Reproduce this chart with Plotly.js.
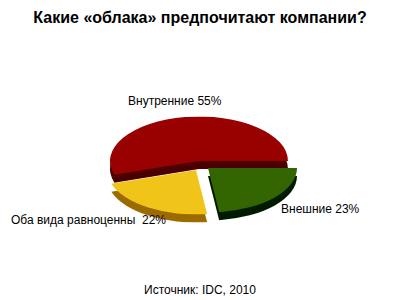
<!DOCTYPE html>
<html><head><meta charset="utf-8">
<script src="https://cdn.plot.ly/plotly-3.0.1.min.js"></script>
<style>
body{margin:0;background:#fff}
#wrap{position:relative;width:400px;height:300px;overflow:hidden;background:#fff}
.pie{position:absolute;width:178px;height:178px;transform:scaleY(0.5);transform-origin:50% 50%}
#main{position:absolute;left:0;top:0;width:400px;height:300px}
</style></head><body>
<div id="wrap"><div id="layers"></div><div id="main"></div></div>
<script>
const categories = ['Внешние', 'Оба вида равноценны', 'Внутренние'];
const shares = [23, 22, 55];
const labelTexts = ['Внешние 23%', 'Оба вида равноценны  22%', 'Внутренние 55%'];
const topColors = ['#336600', '#f0c419', '#990000'];
const sideColors = ['#001a00', '#9c6b00', '#4a0000'];
const titleText = 'Какие «облака» предпочитают компании?';
const sourceText = 'Источник: IDC, 2010';

// layout / styling of the pseudo-3D pie (screen offsets of exploded slices)
const pieCenter = [199, 161];
const pieRadius = 89;
const depth = 8;
const explode = [[9, 7], [-3, 9], [0, 0]];
const drawOrder = [2, 1, 0];

const cfg = {staticPlot: true, displayModeBar: false};
const pieLayout = {width: 2 * pieRadius, height: 2 * pieRadius, margin: {l: 0, r: 0, t: 0, b: 0},
  paper_bgcolor: 'rgba(0,0,0,0)', plot_bgcolor: 'rgba(0,0,0,0)', showlegend: false};

function addLayer(idx, colors, dy) {
  const d = document.createElement('div');
  d.className = 'pie';
  d.style.left = (pieCenter[0] - pieRadius + explode[idx][0]) + 'px';
  d.style.top = (pieCenter[1] - pieRadius + explode[idx][1] + dy) + 'px';
  document.getElementById('layers').appendChild(d);
  const cols = colors.map((c, i) => i === idx ? c : 'rgba(0,0,0,0)');
  Plotly.newPlot(d, [{
    type: 'pie', labels: categories, values: shares, sort: false,
    direction: 'clockwise', rotation: 90,
    marker: {colors: cols, line: {width: 0}},
    textinfo: 'none', hoverinfo: 'none', showlegend: false,
    domain: {x: [0, 1], y: [0, 1]}
  }], pieLayout, cfg);
}
drawOrder.forEach(i => { addLayer(i, sideColors, depth); addLayer(i, topColors, 0); });

const font = {family: 'Liberation Sans, Arial, sans-serif', size: 12, color: '#000'};
const labelPos = [[279, 209, 'left'], [9, 220, 'left'], [175, 101, 'center']];
const annotations = labelTexts.map((t, i) => ({
  text: t, x: labelPos[i][0], y: labelPos[i][1], xref: 'x', yref: 'y',
  xanchor: labelPos[i][2], yanchor: 'middle', showarrow: false, font: font
}));
annotations.push({text: sourceText, x: 200, y: 290, xref: 'x', yref: 'y',
  xanchor: 'center', yanchor: 'middle', showarrow: false, font: font});

Plotly.newPlot('main', [], {
  width: 400, height: 300, margin: {l: 0, r: 0, t: 0, b: 0},
  paper_bgcolor: 'rgba(0,0,0,0)', plot_bgcolor: 'rgba(0,0,0,0)',
  title: {text: '<b>' + titleText + '</b>', font: {family: 'Liberation Sans, Arial, sans-serif', size: 16, color: '#000'},
    x: 0.5, xanchor: 'center', y: 1 - 17 / 300, yanchor: 'middle', yref: 'container'},
  xaxis: {range: [0, 400], visible: false, fixedrange: true},
  yaxis: {range: [300, 0], visible: false, fixedrange: true},
  annotations: annotations, showlegend: false
}, cfg);
</script></body></html>
